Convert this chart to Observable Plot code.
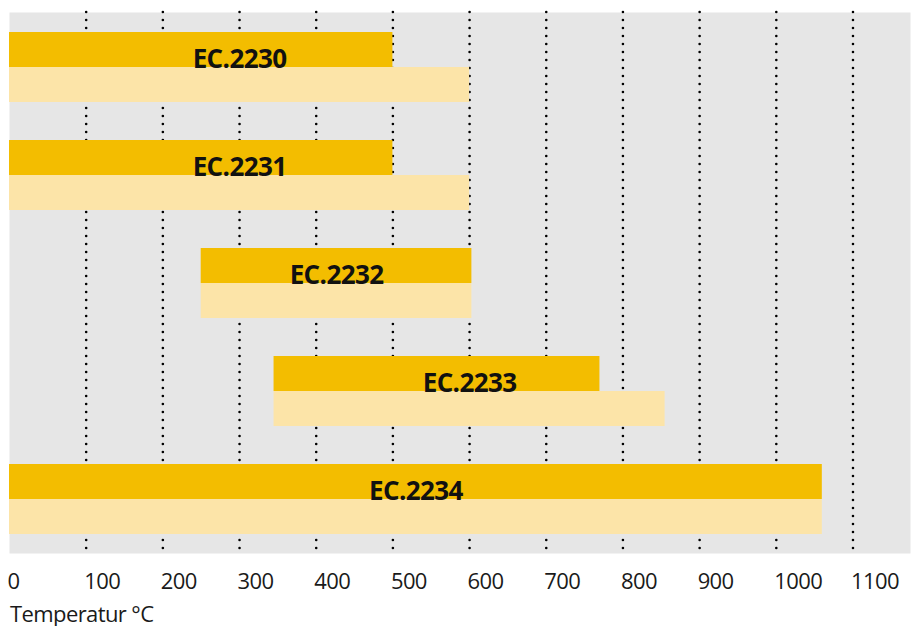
<!DOCTYPE html>
<html><head><meta charset="utf-8">
<script src="https://cdn.jsdelivr.net/npm/d3@7"></script>
<script src="https://cdn.jsdelivr.net/npm/@observablehq/plot@0.6"></script>
<style>
body{margin:0;background:#fff;font-family:"Open Sans",sans-serif;}
#axislabel{font-size:22px;line-height:26px;margin-left:10px;margin-top:4px;letter-spacing:-0.6px;color:#1a1a1a;}
</style></head><body>
<div id="chart"></div>
<div id="axislabel">Temperatur °C</div>
<script>
const products = ["EC.2230", "EC.2231", "EC.2232", "EC.2233", "EC.2234"];
const rangeStart = [0, 0, 250, 345, 0];
const continuousMax = [500, 500, 603, 770, 1060];
const shortTermMax = [600, 600, 603, 855, 1060];
const tickValues = [0, 100, 200, 300, 400, 500, 600, 700, 800, 900, 1000, 1100];

const rows = products.map((p, i) => ({
  product: p,
  start: rangeStart[i],
  cont: continuousMax[i],
  peak: shortTermMax[i]
}));

const chart = Plot.plot({
  width: 912,
  height: 596,
  marginLeft: 9,
  marginRight: 2,
  marginTop: 12,
  marginBottom: 43,
  x: {domain: [0, 1175], ticks: tickValues, label: null},
  y: {domain: products, paddingInner: 0.354, paddingOuter: 0.177, axis: null},
  style: {fontFamily: "Open Sans", fontSize: "22px", letterSpacing: "-0.6px", color: "#1a1a1a", background: "#fff", overflow: "visible"},
  marks: [
    Plot.frame({fill: "#e6e6e6", stroke: "none"}),
    Plot.gridX(tickValues.filter(v => v > 0), {stroke: "#000", strokeOpacity: 1, strokeWidth: 2.6, strokeDasharray: "0,8", strokeLinecap: "round"}),
    Plot.barX(rows, {y: "product", x1: "start", x2: "peak", fill: "#fce4a8", insetTop: 35}),
    Plot.barX(rows, {y: "product", x1: "start", x2: "cont", fill: "#f3bd00", insetBottom: 35}),
    Plot.text(rows, {y: "product", x: d => (d.start + d.peak) / 2, text: "product", fontSize: 26, fontWeight: 700, fill: "#111", lineAnchor: "bottom"}),
    Plot.axisX({ticks: tickValues, tickFormat: d => String(d), tickSize: 0, tickPadding: 20, textAnchor: "start", dx: -2, label: null, fill: "#1a1a1a"})
  ]
});
document.getElementById("chart").appendChild(chart);
</script>
</body></html>
